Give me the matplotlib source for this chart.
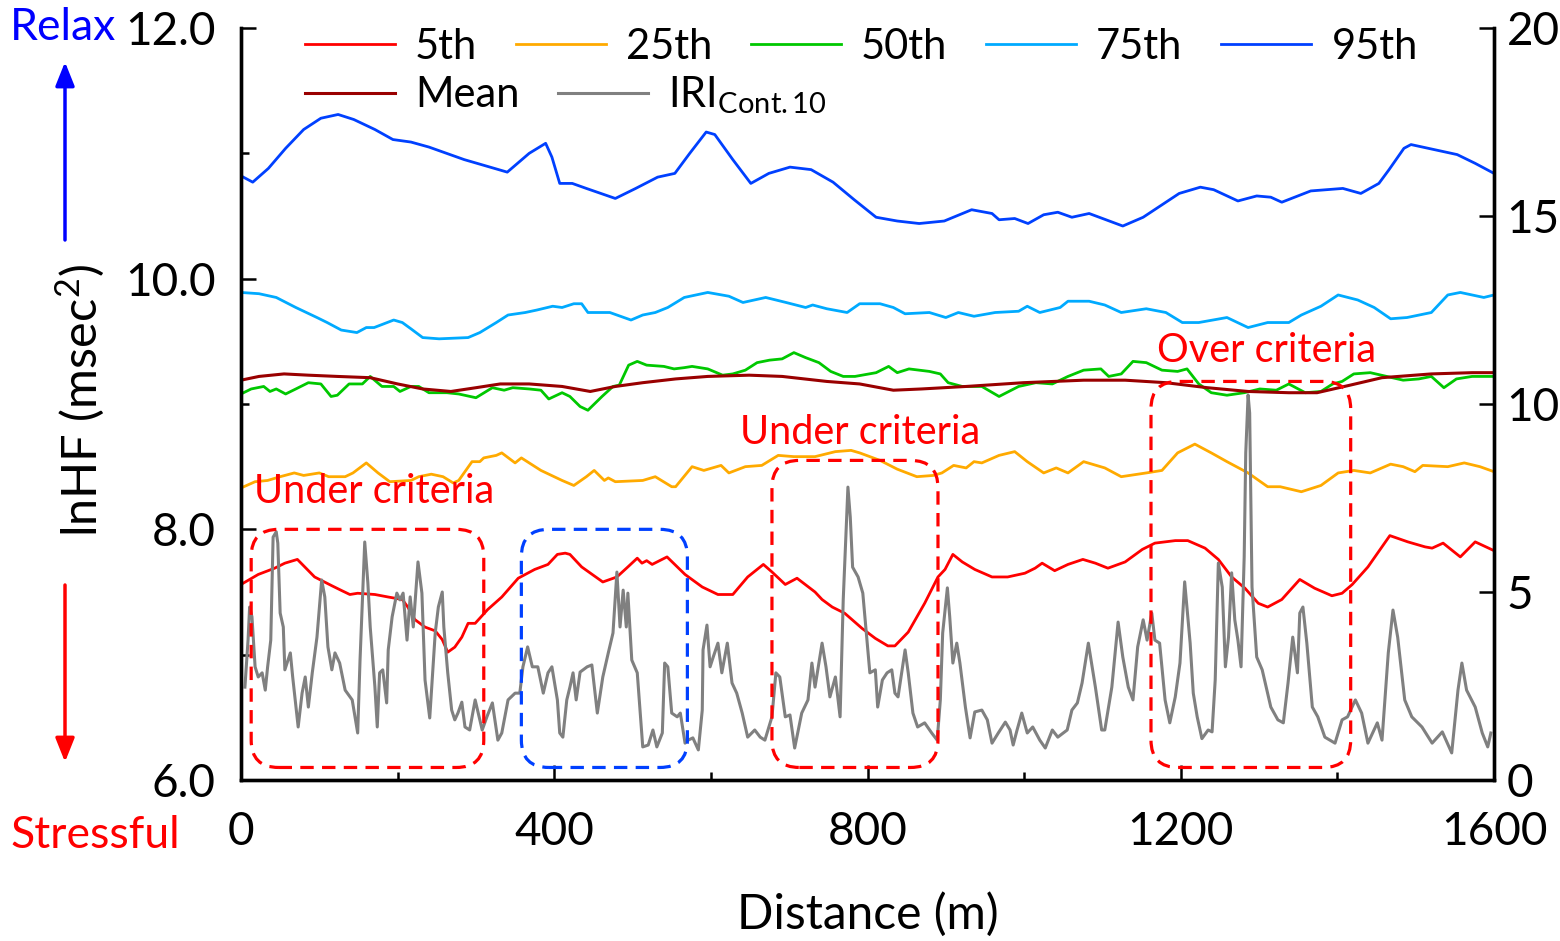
import matplotlib
matplotlib.use("Agg")
import matplotlib.pyplot as plt
from matplotlib.patches import FancyBboxPatch
from matplotlib.ticker import MultipleLocator, FormatStrFormatter

plt.rcParams['font.family'] = ['Lato', 'DejaVu Sans']
plt.rcParams['mathtext.fontset'] = 'custom'
plt.rcParams['mathtext.rm'] = 'Lato'
plt.rcParams['mathtext.it'] = 'Lato:italic'
plt.rcParams['mathtext.bf'] = 'Lato:bold'

# ---- data (distance in m, lnHF in msec^2, IRI on right axis) ----
p95_x = [0, 15, 35, 57, 80, 102, 124, 144, 171, 194, 217, 240, 285, 340, 368, 389, 397, 407, 423, 441,
         478, 504, 532, 554, 573, 594, 605, 628, 651, 674, 701, 728, 756, 783, 811, 838, 866, 898, 933, 959,
         968, 988, 1005, 1025, 1043, 1061, 1083, 1126, 1152, 1198, 1225, 1242, 1273, 1297, 1315, 1329, 1366,
         1407, 1430, 1453, 1466, 1485, 1494, 1553, 1576, 1600]
p95_y = [10.82, 10.77, 10.88, 11.04, 11.19, 11.28, 11.31, 11.27, 11.19, 11.11, 11.09, 11.05, 10.95, 10.85,
         11.00, 11.08, 10.97, 10.76, 10.76, 10.72, 10.64, 10.72, 10.81, 10.84, 11.00, 11.17, 11.15, 10.95,
         10.76, 10.84, 10.89, 10.87, 10.77, 10.63, 10.49, 10.46, 10.44, 10.46, 10.55, 10.52, 10.47, 10.48,
         10.44, 10.51, 10.53, 10.49, 10.52, 10.42, 10.49, 10.68, 10.73, 10.71, 10.62, 10.66, 10.65, 10.61,
         10.70, 10.72, 10.68, 10.76, 10.87, 11.04, 11.07, 10.99, 10.92, 10.84]

p75_x = [0, 23, 45, 70, 97, 110, 128, 148, 160, 170, 195, 206, 217, 232, 253, 290, 305, 326, 341, 363,
         378, 398, 410, 425, 435, 443, 471, 498, 513, 529, 545, 566, 596, 623, 641, 670, 696, 721, 730, 748,
         774, 790, 816, 833, 848, 879, 900, 916, 936, 963, 993, 1004, 1020, 1046, 1056, 1083, 1103, 1124,
         1156, 1181, 1202, 1223, 1259, 1286, 1311, 1338, 1354, 1379, 1401, 1426, 1447, 1468, 1489, 1520,
         1541, 1557, 1587, 1600]
p75_y = [9.89, 9.88, 9.85, 9.77, 9.69, 9.65, 9.59, 9.57, 9.61, 9.61, 9.67, 9.65, 9.60, 9.53, 9.52, 9.53,
         9.57, 9.65, 9.71, 9.73, 9.75, 9.78, 9.77, 9.80, 9.80, 9.73, 9.73, 9.67, 9.71, 9.73, 9.77, 9.85,
         9.89, 9.86, 9.81, 9.85, 9.81, 9.77, 9.79, 9.76, 9.73, 9.80, 9.80, 9.77, 9.72, 9.73, 9.69, 9.73,
         9.70, 9.73, 9.74, 9.78, 9.73, 9.77, 9.82, 9.82, 9.79, 9.73, 9.76, 9.73, 9.65, 9.65, 9.69, 9.61,
         9.65, 9.65, 9.71, 9.78, 9.87, 9.83, 9.77, 9.68, 9.69, 9.73, 9.87, 9.89, 9.85, 9.87]

p50_x = [0, 13, 29, 37, 45, 57, 70, 86, 102, 115, 123, 138, 155, 165, 180, 195, 203, 217, 227, 240, 263,
         278, 300, 321, 336, 347, 368, 383, 393, 410, 420, 433, 443, 461, 475, 483, 495, 506, 518, 540, 553,
         566, 576, 596, 615, 628, 644, 659, 675, 691, 706, 721, 738, 753, 769, 784, 811, 827, 838, 853, 879,
         893, 903, 921, 946, 968, 993, 1015, 1036, 1056, 1076, 1098, 1108, 1124, 1139, 1156, 1176, 1196,
         1208, 1223, 1239, 1259, 1281, 1301, 1322, 1338, 1359, 1379, 1394, 1406, 1421, 1442, 1463, 1484,
         1504, 1520, 1536, 1552, 1572, 1600]
p50_y = [9.08, 9.12, 9.14, 9.10, 9.12, 9.08, 9.12, 9.17, 9.16, 9.06, 9.07, 9.16, 9.16, 9.22, 9.14, 9.14,
         9.10, 9.14, 9.14, 9.09, 9.09, 9.08, 9.05, 9.13, 9.11, 9.13, 9.12, 9.11, 9.04, 9.09, 9.06, 8.98,
         8.95, 9.06, 9.14, 9.15, 9.31, 9.34, 9.31, 9.30, 9.28, 9.29, 9.30, 9.28, 9.23, 9.24, 9.27, 9.33,
         9.35, 9.36, 9.41, 9.37, 9.33, 9.26, 9.22, 9.22, 9.25, 9.30, 9.25, 9.28, 9.26, 9.24, 9.17, 9.14,
         9.14, 9.06, 9.14, 9.17, 9.16, 9.22, 9.27, 9.28, 9.22, 9.24, 9.34, 9.33, 9.27, 9.26, 9.28, 9.16,
         9.09, 9.07, 9.09, 9.12, 9.11, 9.16, 9.09, 9.10, 9.16, 9.18, 9.24, 9.25, 9.22, 9.19, 9.20, 9.22,
         9.13, 9.20, 9.22, 9.22]

mean_x = [0, 23, 55, 86, 123, 165, 200, 232, 268, 300, 331, 368, 410, 446, 478, 513, 555, 596, 649, 691,
          748, 790, 833, 869, 926, 999, 1076, 1129, 1181, 1234, 1286, 1338, 1374, 1416, 1457, 1520, 1572, 1600]
mean_y = [9.19, 9.22, 9.24, 9.23, 9.22, 9.21, 9.16, 9.12, 9.10, 9.13, 9.16, 9.16, 9.14, 9.10, 9.14, 9.17,
          9.20, 9.22, 9.23, 9.22, 9.18, 9.16, 9.11, 9.12, 9.14, 9.17, 9.19, 9.19, 9.17, 9.13, 9.10, 9.09,
          9.09, 9.15, 9.21, 9.24, 9.25, 9.25]

p25_x = [0, 18, 34, 50, 68, 80, 100, 112, 133, 143, 160, 175, 190, 217, 227, 243, 258, 271, 278, 295, 305,
         310, 326, 333, 350, 358, 383, 410, 425, 441, 451, 464, 469, 478, 513, 529, 550, 555, 576, 591, 613,
         623, 644, 665, 686, 706, 733, 759, 779, 790, 816, 838, 863, 884, 895, 910, 926, 936, 946, 968, 988,
         1004, 1025, 1041, 1056, 1076, 1103, 1124, 1156, 1176, 1196, 1218, 1239, 1259, 1286, 1311, 1327,
         1354, 1379, 1401, 1421, 1442, 1468, 1484, 1499, 1509, 1541, 1562, 1582, 1600]
p25_y = [8.33, 8.38, 8.39, 8.42, 8.45, 8.43, 8.45, 8.42, 8.42, 8.45, 8.53, 8.45, 8.38, 8.39, 8.42, 8.44,
         8.42, 8.37, 8.39, 8.54, 8.54, 8.57, 8.59, 8.61, 8.53, 8.57, 8.47, 8.39, 8.35, 8.42, 8.47, 8.39,
         8.41, 8.38, 8.39, 8.42, 8.34, 8.34, 8.50, 8.47, 8.51, 8.45, 8.50, 8.51, 8.59, 8.58, 8.58, 8.62,
         8.63, 8.61, 8.55, 8.48, 8.42, 8.43, 8.45, 8.51, 8.49, 8.54, 8.53, 8.59, 8.62, 8.54, 8.45, 8.49,
         8.45, 8.54, 8.49, 8.42, 8.45, 8.47, 8.61, 8.68, 8.61, 8.54, 8.45, 8.34, 8.34, 8.30, 8.35, 8.45,
         8.47, 8.45, 8.52, 8.50, 8.46, 8.51, 8.50, 8.53, 8.50, 8.46]

p5_x = [0, 22, 43, 56, 72, 94, 116, 129, 139, 149, 171, 188, 206, 213, 222, 235, 248, 257, 264, 273, 282,
        290, 299, 315, 333, 354, 375, 392, 404, 414, 420, 435, 462, 480, 494, 506, 512, 518, 525, 544, 567,
        589, 609, 628, 647, 667, 678, 695, 710, 733, 742, 755, 771, 793, 810, 826, 835, 852, 873, 890, 899,
        909, 921, 937, 959, 979, 1001, 1014, 1023, 1039, 1056, 1075, 1091, 1107, 1129, 1151, 1167, 1193,
        1209, 1231, 1248, 1265, 1282, 1299, 1311, 1329, 1352, 1371, 1393, 1406, 1419, 1439, 1467, 1490,
        1512, 1521, 1535, 1557, 1576, 1600]
p5_y = [7.56, 7.64, 7.69, 7.73, 7.76, 7.62, 7.55, 7.51, 7.48, 7.49, 7.48, 7.46, 7.44, 7.38, 7.28, 7.22,
        7.19, 7.12, 7.02, 7.06, 7.14, 7.25, 7.25, 7.36, 7.46, 7.61, 7.68, 7.72, 7.80, 7.81, 7.80, 7.70,
        7.58, 7.62, 7.70, 7.77, 7.73, 7.75, 7.72, 7.78, 7.64, 7.54, 7.48, 7.48, 7.62, 7.72, 7.66, 7.56,
        7.61, 7.50, 7.44, 7.38, 7.33, 7.21, 7.13, 7.07, 7.07, 7.18, 7.41, 7.62, 7.68, 7.80, 7.74, 7.68,
        7.62, 7.62, 7.65, 7.69, 7.73, 7.67, 7.72, 7.76, 7.73, 7.69, 7.74, 7.84, 7.89, 7.91, 7.91, 7.85,
        7.76, 7.62, 7.53, 7.41, 7.38, 7.44, 7.60, 7.53, 7.47, 7.49, 7.56, 7.70, 7.95, 7.90, 7.86, 7.85,
        7.89, 7.78, 7.90, 7.83]

iri_x = [5, 9, 11, 14, 18, 22, 27, 31, 34, 38, 41, 45, 47, 50, 54, 56, 63, 66, 73, 78, 82, 86, 91, 97, 103,
         107, 111, 116, 120, 126, 133, 142, 149, 152, 156, 158, 162, 165, 171, 174, 177, 181, 186, 188, 193,
         199, 203, 207, 212, 216, 220, 225, 226, 231, 235, 241, 248, 252, 257, 259, 264, 269, 273, 277, 282,
         286, 292, 299, 308, 314, 321, 328, 333, 341, 350, 356, 360, 366, 372, 379, 386, 392, 397, 404, 407,
         411, 416, 420, 424, 428, 433, 442, 448, 455, 462, 469, 475, 480, 484, 488, 492, 494, 499, 506, 513,
         520, 526, 531, 538, 541, 545, 550, 557, 561, 567, 571, 577, 584, 589, 590, 595, 599, 603, 609, 614,
         621, 627, 633, 640, 647, 656, 663, 669, 678, 683, 688, 695, 701, 707, 716, 724, 729, 733, 742, 747,
         752, 759, 765, 769, 775, 778, 781, 788, 794, 803, 810, 813, 819, 825, 831, 835, 839, 848, 852, 858,
         864, 873, 882, 889, 893, 896, 902, 905, 909, 914, 918, 925, 931, 937, 946, 953, 959, 967, 976, 982,
         986, 991, 997, 1004, 1011, 1020, 1027, 1036, 1043, 1055, 1061, 1068, 1074, 1082, 1091, 1099, 1103,
         1112, 1120, 1126, 1133, 1139, 1145, 1152, 1157, 1163, 1167, 1173, 1180, 1186, 1193, 1199, 1205,
         1212, 1216, 1221, 1227, 1235, 1240, 1244, 1248, 1253, 1257, 1261, 1265, 1269, 1273, 1277, 1281,
         1283, 1286, 1288, 1291, 1297, 1304, 1310, 1315, 1324, 1331, 1337, 1343, 1349, 1352, 1356, 1361,
         1368, 1375, 1384, 1397, 1406, 1413, 1423, 1431, 1439, 1451, 1457, 1465, 1471, 1477, 1486, 1495,
         1508, 1521, 1534, 1546, 1554, 1559, 1565, 1576, 1585, 1592, 1596]
iri_y = [2.47, 3.72, 4.60, 4.34, 3.01, 2.74, 2.85, 2.39, 3.01, 3.72, 6.46, 6.60, 6.30, 4.44, 4.07, 2.93,
         3.38, 2.74, 1.41, 2.31, 2.74, 1.94, 2.85, 3.80, 5.32, 4.87, 3.54, 2.93, 3.38, 3.11, 2.39, 2.13,
         1.25, 3.19, 5.24, 6.33, 5.24, 4.07, 2.47, 1.41, 2.85, 2.93, 2.05, 3.46, 4.34, 4.97, 4.79, 4.97,
         3.72, 4.87, 4.07, 5.53, 5.80, 4.97, 2.66, 1.65, 3.91, 4.60, 5.00, 4.07, 2.85, 1.86, 1.60, 1.78,
         2.07, 1.41, 1.33, 2.13, 1.33, 1.68, 2.05, 1.06, 1.25, 2.13, 2.31, 2.31, 3.01, 3.54, 3.01, 3.01,
         2.31, 2.85, 3.01, 2.13, 1.25, 1.14, 2.13, 2.47, 2.85, 2.13, 2.87, 3.01, 3.06, 1.78, 2.74, 3.38,
         3.91, 5.53, 4.07, 5.05, 4.07, 4.97, 3.19, 2.85, 0.88, 0.93, 1.33, 0.88, 1.25, 3.11, 3.01, 1.78,
         1.68, 1.78, 0.98, 1.06, 1.12, 0.80, 1.86, 3.46, 4.12, 3.01, 3.27, 3.64, 2.85, 3.64, 2.58, 2.31,
         1.78, 1.14, 1.33, 1.14, 1.06, 1.68, 2.85, 2.74, 1.68, 1.73, 0.85, 1.78, 2.13, 3.11, 2.47, 3.64,
         3.01, 2.21, 2.74, 1.68, 4.79, 7.79, 6.99, 5.66, 5.40, 4.97, 2.85, 2.93, 1.94, 2.66, 2.85, 2.93,
         2.31, 2.21, 3.46, 2.85, 1.78, 1.41, 1.52, 1.25, 1.06, 2.13, 3.91, 5.11, 4.34, 3.11, 3.64, 3.11,
         1.94, 1.12, 1.81, 1.86, 1.60, 0.98, 1.25, 1.54, 1.33, 0.93, 1.33, 1.78, 1.25, 1.41, 1.06, 0.85,
         1.33, 1.14, 1.33, 1.86, 2.05, 2.58, 3.64, 2.47, 1.33, 1.33, 2.47, 4.20, 3.27, 2.47, 2.13, 3.54,
         4.26, 3.72, 4.44, 3.72, 3.64, 2.13, 1.52, 2.21, 3.11, 5.27, 3.64, 2.31, 1.68, 1.10, 1.33, 1.28,
         2.66, 5.77, 5.13, 3.01, 3.80, 5.51, 4.26, 3.72, 3.01, 5.93, 8.70, 10.24, 9.76, 5.13, 3.27, 2.93,
         2.39, 1.94, 1.60, 1.52, 2.58, 3.80, 2.85, 4.44, 4.60, 3.64, 1.94, 1.68, 1.14, 0.98, 1.60, 1.68,
         2.13, 1.78, 0.98, 1.52, 1.06, 3.38, 4.52, 3.80, 2.13, 1.68, 1.41, 0.98, 1.28, 0.72, 2.39, 3.11,
         2.39, 1.94, 1.25, 0.88, 1.25]

# highlighted ranges: (x0, x1, y0, y1) in distance / lnHF
boxes = [(13, 310, 6.10, 8.00, 'red'),
         (358, 570, 6.10, 8.00, '#0040ff'),
         (678, 890, 6.10, 8.55, 'red'),
         (1162, 1417, 6.10, 9.18, 'red')]
box_labels = [(170, 8.30, 'Under criteria'), (790, 8.77, 'Under criteria'), (1310, 9.43, 'Over criteria')]

W, H = 1560, 941
fig = plt.figure(figsize=(W / 100, H / 100), dpi=100)
ax = fig.add_axes([241 / W, 1 - 780 / H, (1494 - 241) / W, (780 - 28) / H])
ax2 = ax.twinx()

lw = 2.0
l5, = ax.plot(p5_x, p5_y, color='#ff0000', lw=lw)
l25, = ax.plot(p25_x, p25_y, color='#ffaa00', lw=lw)
l50, = ax.plot(p50_x, p50_y, color='#00c800', lw=lw)
l75, = ax.plot(p75_x, p75_y, color='#00aaff', lw=lw)
l95, = ax.plot(p95_x, p95_y, color='#0040ff', lw=lw)
lmean, = ax.plot(mean_x, mean_y, color='#990000', lw=2.2)
liri, = ax2.plot(iri_x, iri_y, color='#808080', lw=2.2)

ax.set_xlim(0, 1600)
ax.set_ylim(6, 12)

# rounded dashed boxes; aspect makes the corners round on screen
asp = (6 / (780 - 28)) / (1600 / (1494 - 241))
for x0, x1, y0, y1, c in boxes:
    p = FancyBboxPatch((x0, y0), x1 - x0, y1 - y0, boxstyle="round,pad=0,rounding_size=35",
                       mutation_aspect=asp, fill=False, ec=c, lw=2.3, ls=(0, (4.2, 2.6)),
                       transform=ax.transData, zorder=6, clip_on=False)
    ax2.add_patch(p)
for x, y, s in box_labels:
    ax2.text(x, y, s, transform=ax.transData, color='red', fontsize=28.5, ha='center', va='center', zorder=7)
ax2.set_ylim(0, 20)

for a in (ax, ax2):
    a.spines['top'].set_visible(False)
    for s in a.spines.values():
        s.set_linewidth(2.4)

ax.xaxis.set_major_locator(MultipleLocator(400))
ax.xaxis.set_minor_locator(MultipleLocator(200))
ax.yaxis.set_major_locator(MultipleLocator(2))
ax.yaxis.set_minor_locator(MultipleLocator(1))
ax.yaxis.set_major_formatter(FormatStrFormatter('%.1f'))
ax2.yaxis.set_major_locator(MultipleLocator(5))

ax.tick_params(axis='x', which='major', direction='in', length=11, width=1.8, labelsize=33, pad=22)
ax.tick_params(axis='x', which='minor', direction='in', length=6, width=1.8)
ax.tick_params(axis='y', which='major', direction='in', length=11, width=1.8, labelsize=33, pad=18)
ax.tick_params(axis='y', which='minor', direction='in', length=6, width=1.8)
ax2.tick_params(axis='y', which='major', direction='in', length=11, width=1.8, labelsize=33, pad=9)

fig.text(868 / W, 1 - 915 / H, 'Distance (m)', fontsize=34.5, ha='center', va='center')
fig.text(80 / W, 1 - 401 / H, 'lnHF (msec$^2$)', fontsize=35, ha='center', va='center', rotation=90)
fig.text(63 / W, 1 - 27 / H, 'Relax', fontsize=32, color='#0000ff', ha='center', va='center')
fig.text(95 / W, 1 - 835 / H, 'Stressful', fontsize=32, color='#ff0000', ha='center', va='center')

astyle = '-|>,head_length=0.45,head_width=0.18'
ax.annotate('', xy=(65 / W, 1 - 62 / H), xytext=(65 / W, 1 - 240 / H), xycoords='figure fraction',
            arrowprops=dict(arrowstyle=astyle, color='#0000ff', lw=2.5, mutation_scale=32,
                            shrinkA=0, shrinkB=0))
ax.annotate('', xy=(65 / W, 1 - 762 / H), xytext=(65 / W, 1 - 585 / H), xycoords='figure fraction',
            arrowprops=dict(arrowstyle=astyle, color='#ff0000', lw=2.5, mutation_scale=32,
                            shrinkA=0, shrinkB=0))

leg_kw = dict(frameon=False, fontsize=30, handlelength=2.16, handletextpad=0.48, columnspacing=0.93,
              borderpad=0, borderaxespad=0, loc='center left')
fig.legend([l5, l25, l50, l75, l95], ['5th', '25th', '50th', '75th', '95th'], ncol=5,
           bbox_to_anchor=(305 / W, 1 - 47 / H), **leg_kw)
fig.legend([lmean, liri], ['Mean', r'IRI$_{\mathrm{Cont.10}}$'], ncol=2,
           bbox_to_anchor=(305 / W, 1 - 95 / H), **leg_kw)

fig.savefig('out.png', dpi=100)
